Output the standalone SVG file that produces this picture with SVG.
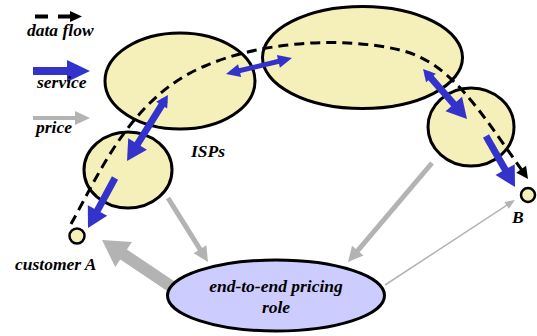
<svg xmlns="http://www.w3.org/2000/svg" width="537" height="336" viewBox="0 0 537 336">
<style>
  .isp { fill: #f5f0ba; stroke: #000; stroke-width: 3; }
  .end { fill: #f5f0ba; stroke: #000; stroke-width: 2.5; }
  .pricing { fill: #ccccff; stroke: #000; stroke-width: 3; }
  .lbl { font-family: "Liberation Serif", "Times New Roman", serif; font-weight: bold; font-style: italic; font-size: 17.5px; fill: #000; }
  .flow { fill: none; stroke: #000; stroke-width: 3; stroke-dasharray: 10 6; }
  .svc { stroke: #3333cc; fill: none; }
  .prc { stroke: #b3b3b3; fill: none; }
</style>
<defs>
  <marker id="blueBig" markerUnits="userSpaceOnUse" markerWidth="20" markerHeight="22" viewBox="0 0 20 22" refX="10" refY="11" orient="auto-start-reverse" overflow="visible">
    <path d="M0,0 L20,11 L0,22 z" fill="#3333cc"/>
  </marker>
  <marker id="blueSmall" markerUnits="userSpaceOnUse" markerWidth="12" markerHeight="13" viewBox="0 0 12 13" refX="6" refY="6.5" orient="auto-start-reverse" overflow="visible">
    <path d="M0,0 L12,6.5 L0,13 z" fill="#3333cc"/>
  </marker>
  <marker id="blueMid" markerUnits="userSpaceOnUse" markerWidth="14" markerHeight="13" viewBox="0 0 14 13" refX="7" refY="6.5" orient="auto-start-reverse" overflow="visible">
    <path d="M0,0 L14,6.5 L0,13 z" fill="#3333cc"/>
  </marker>
  <marker id="grayMid" markerUnits="userSpaceOnUse" markerWidth="15" markerHeight="15" viewBox="0 0 15 15" refX="7.5" refY="7.5" orient="auto" overflow="visible">
    <path d="M0,0 L15,7.5 L0,15 z" fill="#b3b3b3"/>
  </marker>
  <marker id="grayThin" markerUnits="userSpaceOnUse" markerWidth="10" markerHeight="8" viewBox="0 0 10 8" refX="5" refY="4" orient="auto" overflow="visible">
    <path d="M0,0 L10,4 L0,8 z" fill="#b3b3b3"/>
  </marker>
  <marker id="grayBig" markerUnits="userSpaceOnUse" markerWidth="26" markerHeight="30" viewBox="0 0 26 30" refX="13" refY="15" orient="auto" overflow="visible">
    <path d="M0,0 L26,15 L0,30 z" fill="#b3b3b3"/>
  </marker>
  <marker id="flowHead" markerUnits="userSpaceOnUse" markerWidth="12" markerHeight="12" viewBox="0 0 12 12" refX="6" refY="6" orient="auto" overflow="visible">
    <path d="M0,0 L12,6 L0,12 z" fill="#000"/>
  </marker>
</defs>

<g id="legend">
  <line x1="35" y1="16.5" x2="70" y2="16.5" stroke="#000" stroke-width="4" stroke-dasharray="13 10"/>
  <path d="M70,11 L82,16.5 L70,22 z" fill="#000"/>
  <text class="lbl" x="27" y="36">data flow</text>
  <path d="M33,67 H67 V60 L90,71 L67,82 V75 H33 z" fill="#3333cc"/>
  <text class="lbl" x="37" y="88">service</text>
  <path d="M33,116 H75 V111 L90,118 L75,125 V120 H33 z" fill="#b3b3b3"/>
  <text class="lbl" x="36" y="133">price</text>
</g>

<g id="isp-west">
  <ellipse class="isp" cx="180" cy="81" rx="75" ry="48"/>
</g>
<g id="isp-core">
  <ellipse class="isp" cx="362.5" cy="57.5" rx="100" ry="51"/>
</g>
<g id="isp-east">
  <ellipse class="isp" cx="471" cy="127" rx="43" ry="39"/>
</g>
<g id="isp-access">
  <ellipse class="isp" cx="128" cy="170" rx="44" ry="38"/>
</g>
<g id="isps-label">
  <text class="lbl" x="191" y="157">ISPs</text>
</g>
<g id="customer-a">
  <circle class="end" cx="77" cy="236" r="7.5"/>
  <text class="lbl" x="15" y="270">customer A</text>
</g>
<g id="customer-b">
  <circle class="end" cx="528" cy="195" r="7"/>
  <text class="lbl" x="512" y="223">B</text>
</g>

<g id="connectors">
  <path class="flow" d="M71,224 C100,172 132,96 205,66 C260,42 340,36 400,50 C450,62 478,108 524.6,174.1" marker-end="url(#flowHead)"/>
  <line class="svc" stroke-width="7" x1="164.8" y1="100.1" x2="132.3" y2="152.5" marker-start="url(#blueSmall)" marker-end="url(#blueBig)"/>
  <line class="svc" stroke-width="5" x1="232.8" y1="72.3" x2="285.2" y2="59.7" marker-start="url(#blueMid)" marker-end="url(#blueMid)"/>
  <line class="svc" stroke-width="7" x1="427" y1="73.5" x2="460.4" y2="111.5" marker-start="url(#blueSmall)" marker-end="url(#blueBig)"/>
  <line class="svc" stroke-width="7" x1="486" y1="136" x2="510.1" y2="178.3" marker-end="url(#blueBig)"/>
  <line class="svc" stroke-width="7" x1="115" y1="178" x2="92.75" y2="219.2" marker-end="url(#blueBig)"/>
  <line class="prc" stroke-width="5" x1="168" y1="198" x2="204" y2="255.6" marker-end="url(#grayMid)"/>
  <line class="prc" stroke-width="5" x1="432" y1="163" x2="352.9" y2="256.3" marker-end="url(#grayMid)"/>
  <line class="prc" stroke-width="1.5" x1="385" y1="285" x2="510.8" y2="202.7" marker-end="url(#grayThin)"/>
  <line class="prc" stroke-width="12" x1="175" y1="289" x2="112.8" y2="247.2" marker-end="url(#grayBig)"/>
</g>

<g id="pricing-role">
  <ellipse class="pricing" cx="276" cy="295.5" rx="108.5" ry="35.5"/>
  <text class="lbl" x="276" y="292" text-anchor="middle">end-to-end pricing</text>
  <text class="lbl" x="276" y="313" text-anchor="middle">role</text>
</g>
</svg>
